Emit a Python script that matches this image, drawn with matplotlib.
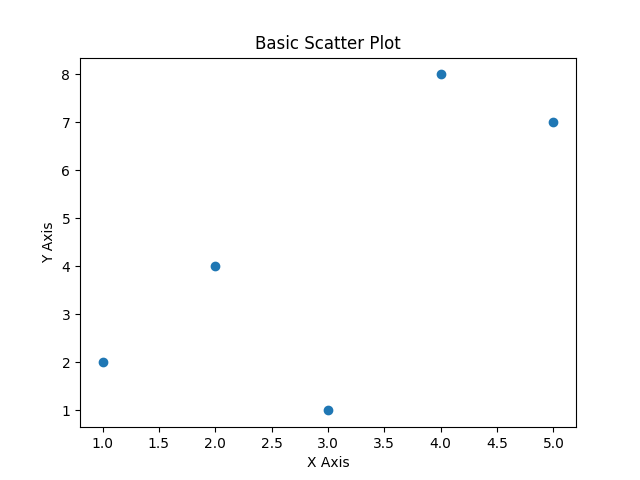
import matplotlib
matplotlib.use("Agg")
import matplotlib.pyplot as plt

x = [1, 2, 3, 4, 5]
y = [2, 4, 1, 8, 7]

fig, ax = plt.subplots(figsize=(6.4, 4.8), dpi=100)
ax.scatter(x, y)
ax.set_title("Basic Scatter Plot")
ax.set_xlabel("X Axis")
ax.set_ylabel("Y Axis")
fig.savefig("out.png")
